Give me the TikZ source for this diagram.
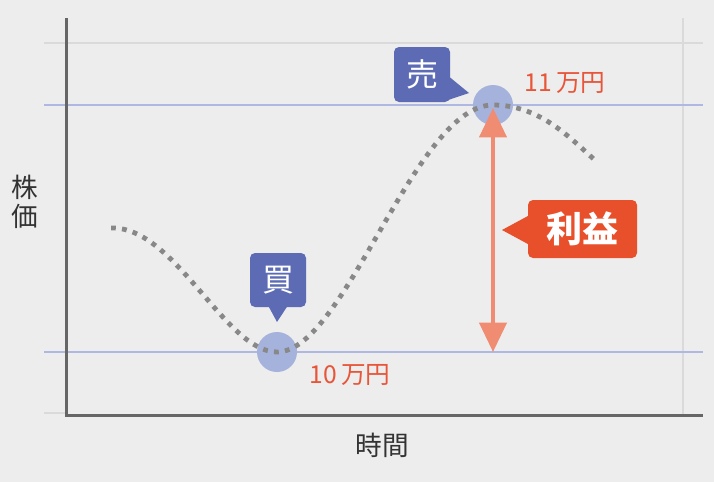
\documentclass[tikz,border=0pt]{standalone}
\usepackage{fontspec}
\setmainfont{Noto Sans CJK JP}
\usetikzlibrary{arrows.meta}
\definecolor{bg}{HTML}{EDEDED}
\definecolor{gridgray}{HTML}{DADADA}
\definecolor{axisgray}{HTML}{666666}
\definecolor{lineblue}{HTML}{AEB8E2}
\definecolor{dotblue}{HTML}{A5B2DC}
\definecolor{boxblue}{HTML}{5C6BB4}
\definecolor{boxred}{HTML}{E8502B}
\definecolor{textred}{HTML}{E8563A}
\definecolor{arrowsalmon}{HTML}{F08C72}
\definecolor{curvegray}{HTML}{888888}
\definecolor{labelgray}{HTML}{333333}
\tikzset{
  gridline/.style={gridgray, line width=1.125pt},
  levelline/.style={lineblue, line width=1.125pt},
  axisline/.style={axisgray, line width=2.25pt},
  pricedot/.style={circle, fill=dotblue, minimum size=30pt, inner sep=0pt},
  callout/.style={rounded corners=3.75pt, inner sep=0pt, text=white},
  pricelabel/.style={text=textred, font=\fontsize{18.5}{20}\selectfont},
  axislabel/.style={text=labelgray, font=\fontsize{20}{22}\selectfont, inner sep=0pt},
}
\begin{document}
\begin{tikzpicture}[x=0.75pt,y=-0.75pt]
\fill[bg] (0,0) rectangle (714,482);
\useasboundingbox (0,0) rectangle (714,482);
% grid
\draw[gridline] (44,43) -- (703,43);
\draw[gridline] (44,413) -- (66,413);
\draw[gridline] (683,18) -- (683,415);
% level lines
\draw[levelline] (44,105) -- (703,105);
\draw[levelline] (44,352) -- (703,352);
% axes
\coordinate (ytop) at (66,18);
\coordinate (orig) at (66,415);
\coordinate (xend) at (703,415);
\draw[axisline] (ytop) -- (orig) -- (xend);
% dots
\node[pricedot] (buy) at (277,352) {};
\node[pricedot] (sell) at (493,105) {};
% curve
\coordinate (cstart) at (111,228);
\coordinate (cend) at (597,162);
\draw[curvegray, line width=3.6pt, dash pattern=on 3.6pt off 4.7pt]
  (cstart) .. controls (175,226) and (225,352) .. (buy.center)
  .. controls (345,352) and (415,105) .. (sell.center)
  .. controls (540,105) and (570,138) .. (cend);
% profit arrow
\coordinate (atop) at (493,108);
\coordinate (abot) at (493,352);
\draw[arrowsalmon, line width=3pt, {Triangle[width=20.25pt,length=22pt]}-{Triangle[width=20.25pt,length=22pt]}] (atop) -- (abot);
% callouts
\node[callout, fill=boxblue, minimum width=42pt, minimum height=41.25pt, font=\fontsize{24}{26}\selectfont] (sellbox) at (422,74.5) {売};
\fill[boxblue] ([xshift=-1.5pt]sellbox.east |- 0,76) -- (469,93) -- ([xshift=-1.5pt]sellbox.east |- 0,100) -- cycle;
\node[callout, fill=boxblue, minimum width=42pt, minimum height=40.5pt, font=\fontsize{24}{26}\selectfont] (buybox) at (278,280) {買};
\fill[boxblue] ([yshift=1.5pt]buybox.south -| 268,0) -- (277,322) -- ([yshift=1.5pt]buybox.south -| 288,0) -- cycle;
\node[callout, fill=boxred, minimum width=81.75pt, minimum height=43.5pt, font=\bfseries\fontsize{27}{29}\selectfont] (profit) at (582.5,229) {利益};
\fill[boxred] ([xshift=1.5pt]profit.west |- 0,215) -- (502,230) -- ([xshift=1.5pt]profit.west |- 0,245) -- cycle;
% price labels
\node[pricelabel] (p11) at (565,83) {11\,万円};
\node[pricelabel] (p10) at (350,375) {10\,万円};
% axis labels
\node[axislabel] (ylab1) at (25,187) {株};
\node[axislabel] (ylab2) at (25,216) {価};
\node[axislabel] (xlab) at (382,445) {時間};
\end{tikzpicture}
\end{document}
